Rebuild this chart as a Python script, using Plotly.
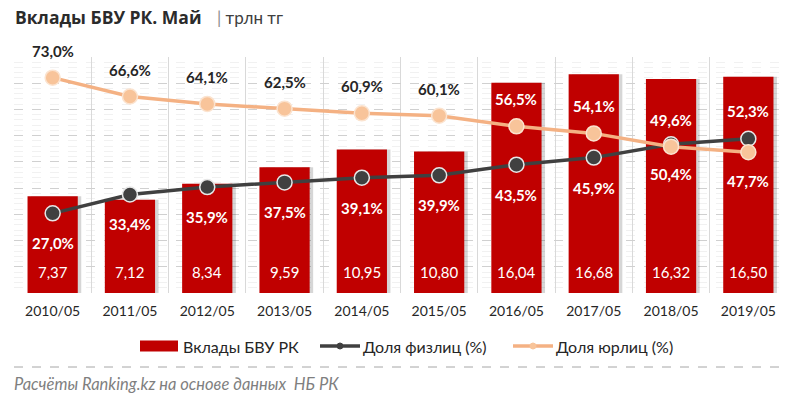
import plotly.graph_objects as go

# ---------------- data ----------------
categories = ["2010/05", "2011/05", "2012/05", "2013/05", "2014/05",
              "2015/05", "2016/05", "2017/05", "2018/05", "2019/05"]
deposits = [7.37, 7.12, 8.34, 9.59, 10.95, 10.80, 16.04, 16.68, 16.32, 16.50]
share_individuals = [27.0, 33.4, 35.9, 37.5, 39.1, 39.9, 43.5, 45.9, 50.4, 52.3]
share_legal = [73.0, 66.6, 64.1, 62.5, 60.9, 60.1, 56.5, 54.1, 49.6, 47.7]
series_names = ["Вклады БВУ РК", "Доля физлиц (%)", "Доля юрлиц (%)"]

# label placement (style): +1 above the point, -1 below
indiv_label_side = [-1, -1, -1, -1, -1, -1, -1, -1, -1, 1]
legal_label_side = [1, 1, 1, 1, 1, 1, 1, 1, 1, -1]

# ---------------- style ----------------
W, H = 800, 398
M_L, M_R, M_T, M_B = 14, 13, 57, 105
PLOT_H = H - M_T - M_B
PLOT_W = W - M_L - M_R
Y1_MAX, Y2_MAX = 18, 80
FONT = "Lato"
RED = "#c00000"
DARK = "#404040"
PEACH_LINE = "#f4b183"
PEACH_FILL = "#f8c49a"
TXT = "#262626"
BAR_W = 0.65


def fmt(v, d):
    return f"{v:.{d}f}".replace(".", ",")


def py(p):
    return (H - M_B - p) / PLOT_H


def px(p):
    return (p - M_L) / PLOT_W


fig = go.Figure()

# soft shadow behind bars
fig.add_trace(go.Bar(
    x=categories, y=deposits, name="shadow",
    marker=dict(color="rgba(0,0,0,0.16)", line=dict(width=0)),
    width=BAR_W, offset=-BAR_W / 2 + 0.045, yaxis="y",
    showlegend=False, hoverinfo="skip"))

fig.add_trace(go.Bar(
    x=categories, y=deposits, name=series_names[0],
    marker=dict(color=RED, line=dict(width=0)),
    width=BAR_W, offset=-BAR_W / 2, yaxis="y", showlegend=False, hoverinfo="skip"))

fig.add_trace(go.Scatter(
    x=categories, y=share_individuals, name=series_names[1],
    mode="lines+markers", yaxis="y2", showlegend=False,
    line=dict(color=DARK, width=3.5),
    marker=dict(size=15, color=DARK, line=dict(color="#e8e8e8", width=1.5))))

fig.add_trace(go.Scatter(
    x=categories, y=share_legal, name=series_names[2],
    mode="lines+markers", yaxis="y2", showlegend=False,
    line=dict(color=PEACH_LINE, width=3.5),
    marker=dict(size=15, color=PEACH_FILL, line=dict(color="#fbe3cf", width=1.5))))

annotations = []
# bar value labels inside bars near the base
for c, v in zip(categories, deposits):
    annotations.append(dict(x=c, y=0, xref="x", yref="y", text=fmt(v, 2),
                            showarrow=False, yshift=21,
                            font=dict(family=FONT, size=15, color="white")))


def label_color(val, bar, side, off):
    lab_px = val / Y2_MAX * PLOT_H + side * off
    bar_px = bar / Y1_MAX * PLOT_H
    return "white" if lab_px < bar_px - 4 else TXT


for c, v, b, s in zip(categories, share_individuals, deposits, indiv_label_side):
    off = 28 if s > 0 else 30
    annotations.append(dict(x=c, y=v, xref="x", yref="y2", text=fmt(v, 1) + "%",
                            showarrow=False, yshift=s * off,
                            font=dict(family=FONT, size=15, color=label_color(v, b, s, off),
                                      weight="bold")))
for c, v, b, s in zip(categories, share_legal, deposits, legal_label_side):
    off = 27 if s > 0 else 29
    annotations.append(dict(x=c, y=v, xref="x", yref="y2", text=fmt(v, 1) + "%",
                            showarrow=False, yshift=s * off,
                            font=dict(family=FONT, size=15, color=label_color(v, b, s, off),
                                      weight="bold")))

# title
annotations.append(dict(x=px(13), y=py(17), xref="paper", yref="paper",
                        xanchor="left", yanchor="middle", showarrow=False,
                        text="<b>Вклады БВУ РК. Май</b>",
                        font=dict(family="Open Sans", size=17.5, color="#2b2b2b")))
annotations.append(dict(x=px(215), y=py(17), xref="paper", yref="paper",
                        xanchor="left", yanchor="middle", showarrow=False,
                        text="<span style='color:#8c8c8c'>|</span> трлн тг",
                        font=dict(family=FONT, size=17, color="#404040")))

# footer
annotations.append(dict(x=px(12), y=py(384), xref="paper", yref="paper",
                        xanchor="left", yanchor="middle", showarrow=False,
                        text="<i>Расчёты Ranking.kz на основе данных  НБ РК</i>",
                        font=dict(family=FONT, size=16.5, color="#7f7f7f")))

shapes = [dict(type="line", xref="paper", yref="paper",
               x0=0, x1=1, y0=py(367), y1=py(367),
               line=dict(color="#a6a6a6", width=1, dash="dash"))]

# ---- custom legend ----
LEG_Y = 346
shapes.append(dict(type="rect", xref="paper", yref="paper",
                   x0=px(140), x1=px(178), y0=py(LEG_Y + 5.5), y1=py(LEG_Y - 5.5),
                   fillcolor=RED, line=dict(width=0)))
annotations.append(dict(x=px(181), y=py(LEG_Y), xref="paper", yref="paper",
                        xanchor="left", yanchor="middle", showarrow=False,
                        text=series_names[0], font=dict(family=FONT, size=16, color=TXT)))
for x0, col, fill, name in [(320, DARK, DARK, series_names[1]),
                            (513, PEACH_LINE, PEACH_FILL, series_names[2])]:
    shapes.append(dict(type="line", xref="paper", yref="paper",
                       x0=px(x0), x1=px(x0 + 40), y0=py(LEG_Y), y1=py(LEG_Y),
                       line=dict(color=col, width=3.5)))
    shapes.append(dict(type="circle", xref="paper", yref="paper",
                       x0=px(x0 + 17), x1=px(x0 + 23), y0=py(LEG_Y + 3), y1=py(LEG_Y - 3),
                       fillcolor=fill, line=dict(color=fill, width=1)))
    annotations.append(dict(x=px(x0 + 41), y=py(LEG_Y), xref="paper", yref="paper",
                            xanchor="left", yanchor="middle", showarrow=False,
                            text=name, font=dict(family=FONT, size=16, color=TXT)))

fig.update_layout(
    width=W, height=H,
    margin=dict(l=M_L, r=M_R, t=M_T, b=M_B),
    paper_bgcolor="white", plot_bgcolor="white",
    font=dict(family=FONT, color=TXT),
    barmode="overlay",
    showlegend=False,
    xaxis=dict(type="category", range=[-0.5, 9.5], showgrid=True,
               tickson="boundaries", gridcolor="#d9d9d9", gridwidth=1,
               ticks="", showline=False, zeroline=False, ticklabelstandoff=8,
               tickfont=dict(family=FONT, size=14, color=TXT)),
    yaxis=dict(range=[0, Y1_MAX], dtick=2, showticklabels=False,
               showgrid=True, gridcolor="#d0d0d0", griddash="dash",
               zeroline=False, showline=False,
               minor=dict(dtick=0.4, showgrid=True, gridcolor="#f1f1f1")),
    yaxis2=dict(range=[0, Y2_MAX], overlaying="y", side="right",
                showticklabels=False, showgrid=False, zeroline=False),
    annotations=annotations, shapes=shapes,
)

fig.write_html("out.html", config={"displayModeBar": False},
               post_script="document.body.style.margin='0px';")
